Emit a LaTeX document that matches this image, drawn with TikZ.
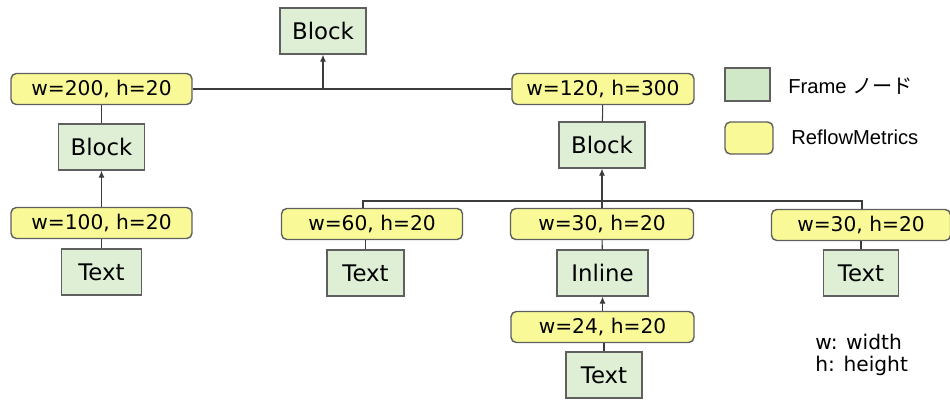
\documentclass[tikz,border=0pt]{standalone}
\usepackage{fontspec}
\setmainfont{DejaVu Sans}
\newfontfamily\legendfont{Liberation Sans}
\newfontfamily\jpfont{Noto Sans CJK JP}
\usetikzlibrary{arrows.meta}
\usetikzlibrary{positioning}
\definecolor{framegreen}{RGB}{222,239,214}
\definecolor{legendgreen}{RGB}{208,232,200}
\definecolor{metricsyellow}{RGB}{249,249,152}
\definecolor{boxline}{RGB}{95,95,95}
\definecolor{wire}{RGB}{60,60,60}
\tikzset{frame/.style = {draw = boxline, line width = 0.8pt, fill = framegreen,
    minimum height = 0.92cm, minimum width = #1, inner sep = 0,
    font = \fontsize{13}{15}\selectfont},
  frame/.default = 1.72cm,
  metrics/.style = {draw = boxline, line width = 0.8pt, fill = metricsyellow,
    rounded corners = 3pt, minimum height = 0.62cm, minimum width = #1,
    inner sep = 0, font = \fontsize{11.5}{13}\selectfont},
  metrics/.default = 3.62cm,
  wire/.style = {draw = wire, line width = 0.6pt},
  up/.style = {wire, -{Latex[length = 4pt, width = 3.5pt]}}}

\begin{document}
\begin{tikzpicture}[x = 0.02cm, y = -0.02cm]
    \useasboundingbox (0, 0) rectangle (950, 400);

    % top level
    \node [frame] (top) at (323, 31) {Block};
    \node [metrics] (m200) at (101.5, 89) {w=200, h=20};
    \node [metrics = 3.64cm] (m120) at (603, 89) {w=120, h=300};

    % left branch
    \node [frame] (lblock) at (101.5, 147) {Block};
    \node [metrics] (m100) at (101.5, 223) {w=100, h=20};
    \node [frame = 1.6cm] (ltext) at (101.5, 272) {Text};

    % right branch
    \node [frame = 1.72cm] (rblock) at (602, 145) {Block};
    \node [metrics] (m60) at (372, 224) {w=60, h=20};
    \node [frame = 1.54cm] (t1) at (365.5, 273) {Text};
    \node [metrics = 3.66cm] (m30c) at (602, 224) {w=30, h=20};
    \node [frame = 1.82cm] (inl) at (602.5, 273) {Inline};
    \node [metrics = 3.66cm] (m24) at (602.5, 327) {w=24, h=20};
    \node [frame = 1.52cm] (t3) at (604, 375) {Text};
    \node [metrics = 3.58cm] (m30r) at (861, 225) {w=30, h=20};
    \node [frame = 1.5cm] (t4) at (861, 273) {Text};

    \coordinate (j1) at (323, 89);
    \coordinate (b1) at (363, 201);
    \coordinate (b2) at (862, 201);

    \draw [wire] (m200) -- (m120);
    \draw [up] (j1) -- (top);
    \draw [wire] (m200) -- (lblock);
    \draw [up] (m100) -- (lblock);
    \draw [wire] (m100) -- (ltext);

    \draw [wire] (m120) -- (rblock);
    \draw [up] (m30c) -- (rblock);
    \draw [wire] (m60.north -| b1) -- (b1) -- (b2) -- (m30r.north -| b2);
    \draw [wire] (t1.north) -- (t1.north |- m60.south);
    \draw [wire] (m30c) -- (inl);
    \draw [up] (m24) -- (inl);
    \draw [wire] (t3.north) -- (t3.north |- m24.south);
    \draw [wire] (m30r) -- (t4);

    % legend
    \node [draw = boxline, line width = 0.8pt, fill = legendgreen,
      minimum width = 0.9cm, minimum height = 0.66cm, inner sep = 0] (lgframe) at (747.5, 84.5) {};
    \node [draw = boxline, line width = 0.8pt, fill = metricsyellow, rounded corners = 3pt,
      minimum width = 0.96cm, minimum height = 0.64cm, inner sep = 0] (lgmetrics) at (749, 138) {};
    \node [anchor = west, inner sep = 0, font = \fontsize{11.5}{13}\legendfont]
      (lgframetxt) at (788, 86) {Frame {\jpfont ノード}};
    \node [anchor = west, inner sep = 0, font = \fontsize{11.5}{13}\legendfont]
      (lgmetricstxt) at (791, 137) {ReflowMetrics};

    \node [anchor = north west, inner sep = 0, align = left,
      font = \fontsize{11.5}{12.4}\selectfont] (key) at (815, 334) {w: width\\h: height};
\end{tikzpicture}
\end{document}
